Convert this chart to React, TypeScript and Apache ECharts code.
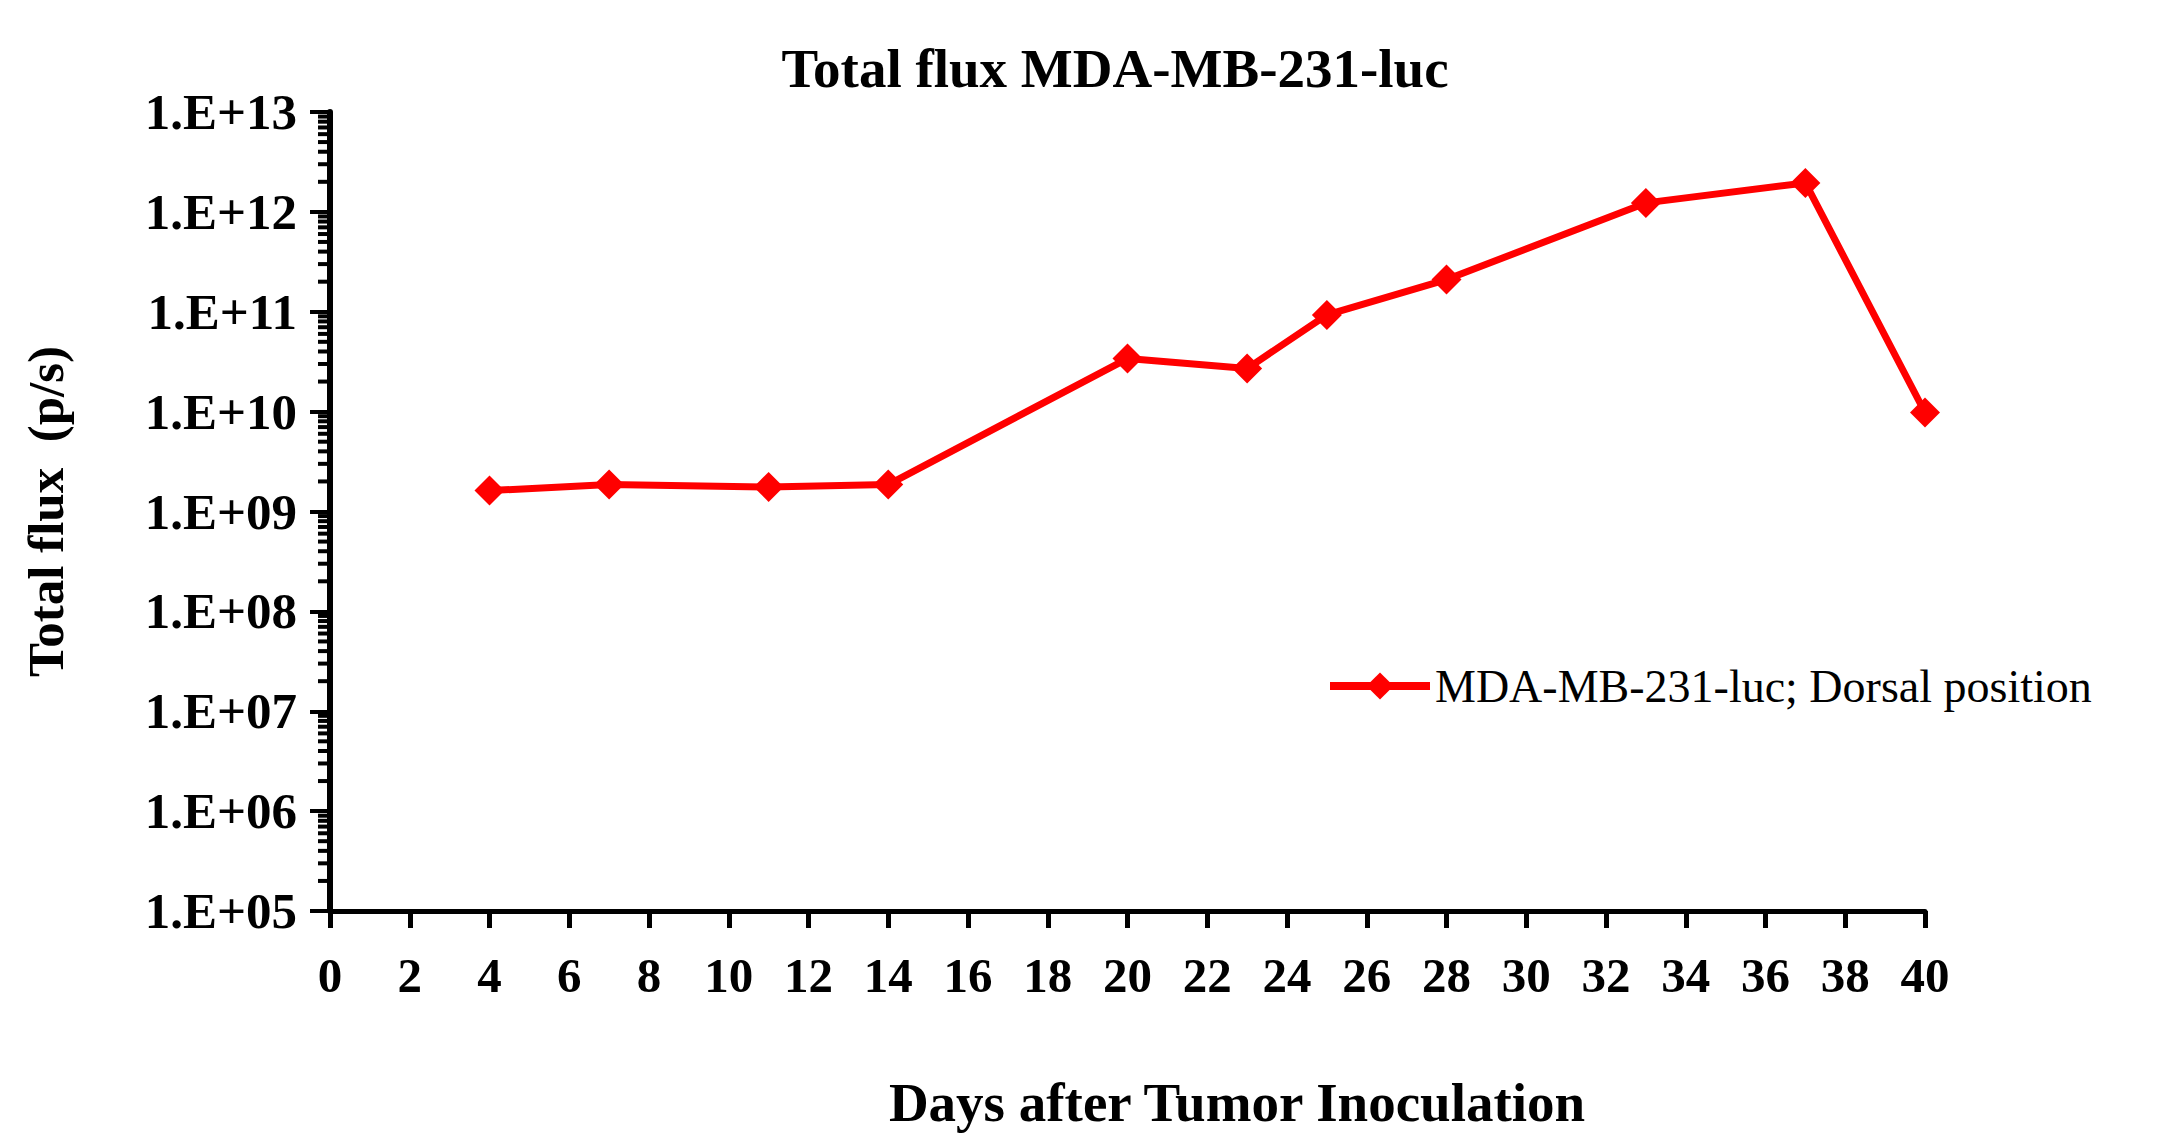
import React, { useEffect, useRef } from "react";
import * as echarts from "echarts";

const DAYS = [4, 7, 11, 14, 20, 23, 25, 28, 33, 37, 40];
const FLUX = [1.62e9, 1.86e9, 1.76e9, 1.86e9, 3.4e10, 2.7e10, 9.3e10, 2.1e11, 1.23e12, 1.95e12, 9.8e9];
const SERIES_NAME = "MDA-MB-231-luc; Dorsal position";
const TITLE = "Total flux MDA-MB-231-luc";
const X_NAME = "Days after Tumor Inoculation";
const Y_NAME = "Total flux  (p/s)";
const DECADE_EXPONENTS = [5, 6, 7, 8, 9, 10, 11, 12];
const MINOR_MULTIPLIERS = [2, 3, 4, 5, 6, 7, 8, 9];

const FONT = "'Liberation Serif', 'Times New Roman', serif";

export default function App() {
  const ref = useRef<HTMLDivElement>(null);
  useEffect(() => {
    if (!ref.current) return;
    const chart = echarts.init(ref.current, null, { renderer: "svg" });
    const minorTicks: number[][] = [];
    DECADE_EXPONENTS.forEach((e) => {
      MINOR_MULTIPLIERS.forEach((m) => {
        minorTicks.push([0, m * Math.pow(10, e)]);
      });
    });
    chart.setOption({
      animation: false,
      backgroundColor: "#ffffff",
      title: [
        {
          text: TITLE,
          left: 1110,
          top: 36,
          textAlign: "center",
          textStyle: { fontFamily: FONT, fontWeight: "bold", fontSize: 55, color: "#000" },
        },
        {
          text: X_NAME,
          left: 1232,
          top: 1070,
          textAlign: "center",
          textStyle: { fontFamily: FONT, fontWeight: "bold", fontSize: 55, color: "#000" },
        },
      ],
      legend: {
        data: [SERIES_NAME],
        left: 1321,
        top: 658,
        itemWidth: 100,
        itemHeight: 34,
        lineStyle: { width: 8 },
        textStyle: { fontFamily: FONT, fontSize: 46, color: "#000" },
      },
      grid: { left: 330, right: 257, top: 112, bottom: 236 },
      xAxis: {
        type: "value",
        min: 0,
        max: 40,
        interval: 2,
        splitLine: { show: false },
        axisLine: { show: true, onZero: false, lineStyle: { color: "#000", width: 5 } },
        axisTick: { show: true, length: 17, lineStyle: { color: "#000", width: 5 } },
        axisLabel: {
          margin: 40,
          fontFamily: FONT,
          fontWeight: "bold",
          fontSize: 49,
          color: "#000",
        },
      },
      yAxis: {
        type: "log",
        logBase: 10,
        min: 1e5,
        max: 1e13,
        interval: 1,
        name: Y_NAME,
        nameLocation: "middle",
        nameGap: 284,
        nameTextStyle: {
          fontFamily: FONT,
          fontWeight: "bold",
          fontSize: 51,
          color: "#000",
          verticalAlign: "middle",
        },
        splitLine: { show: false },
        axisLine: { show: true, lineStyle: { color: "#000", width: 6 } },
        axisTick: { show: true, length: 20, lineStyle: { color: "#000", width: 4 } },
        axisLabel: {
          margin: 33,
          fontFamily: FONT,
          fontWeight: "bold",
          fontSize: 51,
          color: "#000",
          formatter: (v: number) => {
            const e = Math.round(Math.log10(v));
            return "1.E+" + (e < 10 ? "0" + e : String(e));
          },
        },
      },
      series: [
        {
          name: "minorTicks",
          type: "custom",
          silent: true,
          clip: false,
          z: 1,
          data: minorTicks,
          encode: { x: 0, y: 1 },
          renderItem: (params: any, api: any) => {
            const p = api.coord([0, api.value(1)]);
            return {
              type: "line",
              shape: { x1: p[0] - 12, y1: p[1], x2: p[0], y2: p[1] },
              style: { stroke: "#000", lineWidth: 4 },
            };
          },
        },
        {
          name: SERIES_NAME,
          type: "line",
          z: 3,
          data: DAYS.map((d, i) => [d, FLUX[i]]),
          symbol: "diamond",
          symbolSize: 30,
          lineStyle: { color: "#ff0000", width: 7 },
          itemStyle: { color: "#ff0000" },
        },
      ],
    });
    return () => chart.dispose();
  }, []);
  return (
    <div
      ref={ref}
      style={{ position: "fixed", left: 0, top: 0, width: 2182, height: 1147, background: "#fff" }}
    />
  );
}
